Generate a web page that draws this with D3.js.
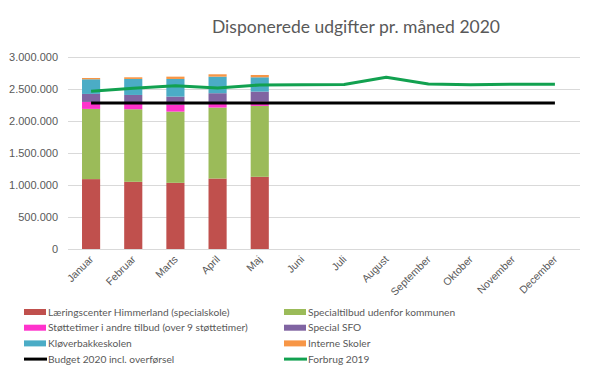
<!DOCTYPE html>
<html>
<head>
<meta charset="utf-8">
<script src="https://cdn.jsdelivr.net/npm/d3@7"></script>
<style>
  body { margin: 0; background: #fff; }
  svg { display: block; font-family: Lato, "Open Sans", sans-serif; }
</style>
</head>
<body>
<div id="chart"></div>
<script>
"use strict";

// Data
const months = ['Januar', 'Februar', 'Marts', 'April', 'Maj', 'Juni', 'Juli',
    'August', 'September', 'Oktober', 'November', 'December'];
const barMonths = ['Januar', 'Februar', 'Marts', 'April', 'Maj'];
const laeringscenter = [1092000, 1050000, 1034000, 1101000, 1128000];
const specialtilbud = [1097000, 1134000, 1113000, 1109000, 1108000];
const stottetimer = [109000, 94000, 109000, 60000, 67000];
const specialSFO = [125000, 129000, 125000, 164000, 156000];
const kloverbakke = [229000, 250000, 276000, 259000, 224000];
const interneSkoler = [20000, 26000, 36000, 37000, 36000];
const budget2020 = [2280000, 2280000, 2280000, 2280000, 2280000, 2280000,
    2280000, 2280000, 2280000, 2280000, 2280000, 2280000];
const forbrug2019 = [2465000, 2510000, 2550000, 2516000, 2563000, 2568000,
    2570000, 2683000, 2579000, 2565000, 2574000, 2574000];
const yTicks = [0, 500000, 1000000, 1500000, 2000000, 2500000, 3000000];

const barSeries = [
    {key: 'laer', name: 'Læringscenter Himmerland (specialskole)', color: '#C0504D', values: laeringscenter},
    {key: 'spec', name: 'Specialtilbud udenfor kommunen', color: '#9BBB59', values: specialtilbud},
    {key: 'stot', name: 'Støttetimer i andre tilbud (over 9 støttetimer)', color: '#FF33CC', values: stottetimer},
    {key: 'sfo', name: 'Special SFO', color: '#8064A2', values: specialSFO},
    {key: 'klov', name: 'Kløverbakkeskolen', color: '#4BACC6', values: kloverbakke},
    {key: 'int', name: 'Interne Skoler', color: '#F79646', values: interneSkoler}
];
const lineSeries = [
    {name: 'Budget 2020 incl. overførsel', color: '#000000', values: budget2020},
    {name: 'Forbrug 2019', color: '#12A150', values: forbrug2019}
];

const width = 591, height = 371;
const margin = {top: 57, right: 15, bottom: 122, left: 70};

const svg = d3.select('#chart').append('svg')
    .attr('width', width)
    .attr('height', height);

// Title
svg.append('text')
    .attr('x', 356)
    .attr('y', 33)
    .attr('text-anchor', 'middle')
    .attr('fill', '#595959')
    .style('font-size', '17.5px')
    .text('Disponerede  udgifter pr. måned 2020');

const x = d3.scaleBand()
    .domain(months)
    .range([margin.left, width - margin.right])
    .paddingInner(0.57)
    .paddingOuter(0.285);

const y = d3.scaleLinear()
    .domain([0, 3000000])
    .range([height - margin.bottom, margin.top]);

const fmt = v => d3.format(',')(v).replace(/,/g, '.');

// Grid + y axis
const yAxis = svg.append('g')
    .attr('transform', `translate(${margin.left - 2},0)`)
    .call(d3.axisLeft(y).tickValues(yTicks).tickFormat(fmt)
        .tickSize(-(width - margin.right - margin.left + 6)).tickPadding(10));
yAxis.select('.domain').remove();
yAxis.selectAll('.tick line').attr('stroke', '#d9d9d9');
yAxis.selectAll('.tick text')
    .attr('fill', '#595959')
    .style('font-size', '11px');

// Stacked bars
const table = barMonths.map((m, i) => {
    const row = {month: m};
    barSeries.forEach(s => { row[s.key] = s.values[i]; });
    return row;
});
const stack = d3.stack().keys(barSeries.map(s => s.key))(table);

svg.append('g').selectAll('g')
    .data(stack)
    .join('g')
    .attr('fill', (d, i) => barSeries[i].color)
    .selectAll('rect')
    .data(d => d)
    .join('rect')
    .attr('x', d => x(d.data.month))
    .attr('width', x.bandwidth())
    .attr('y', d => y(d[1]))
    .attr('height', d => y(d[0]) - y(d[1]));

// Lines
const line = d3.line()
    .x((d, i) => x(months[i]) + x.bandwidth() / 2)
    .y(d => y(d));

lineSeries.forEach(s => {
    svg.append('path')
        .datum(s.values)
        .attr('fill', 'none')
        .attr('stroke', s.color)
        .attr('stroke-width', 3)
        .attr('stroke-linejoin', 'round')
        .attr('d', line);
});

// X axis labels
const xAxis = svg.append('g')
    .attr('transform', `translate(0,${height - margin.bottom})`)
    .call(d3.axisBottom(x).tickSize(0).tickPadding(0));
xAxis.select('.domain').remove();
xAxis.selectAll('.tick text')
    .attr('fill', '#595959')
    .style('font-size', '10.5px')
    .attr('text-anchor', 'end')
    .attr('dy', 0)
    .attr('transform', 'translate(3,11) rotate(-45)');

// Legend
const legendItems = [
    {s: barSeries[0], type: 'bar'}, {s: barSeries[1], type: 'bar'},
    {s: barSeries[2], type: 'bar'}, {s: barSeries[3], type: 'bar'},
    {s: barSeries[4], type: 'bar'}, {s: barSeries[5], type: 'bar'},
    {s: lineSeries[0], type: 'line'}, {s: lineSeries[1], type: 'line'}
];
const legend = svg.append('g');
const li = legend.selectAll('g')
    .data(legendItems)
    .join('g')
    .attr('transform', (d, i) => `translate(${i % 2 === 0 ? 24 : 284},${312 + Math.floor(i / 2) * 15.7})`);
li.filter(d => d.type === 'bar').append('rect')
    .attr('x', 0).attr('y', -3)
    .attr('width', 22).attr('height', 6)
    .attr('fill', d => d.s.color);
li.filter(d => d.type === 'line').append('line')
    .attr('x1', 0).attr('x2', 23)
    .attr('stroke', d => d.s.color)
    .attr('stroke-width', 3);
li.append('text')
    .attr('x', 24)
    .attr('dy', '0.35em')
    .attr('fill', '#595959')
    .style('font-size', '10.2px')
    .text(d => d.s.name);
</script>
</body>
</html>
